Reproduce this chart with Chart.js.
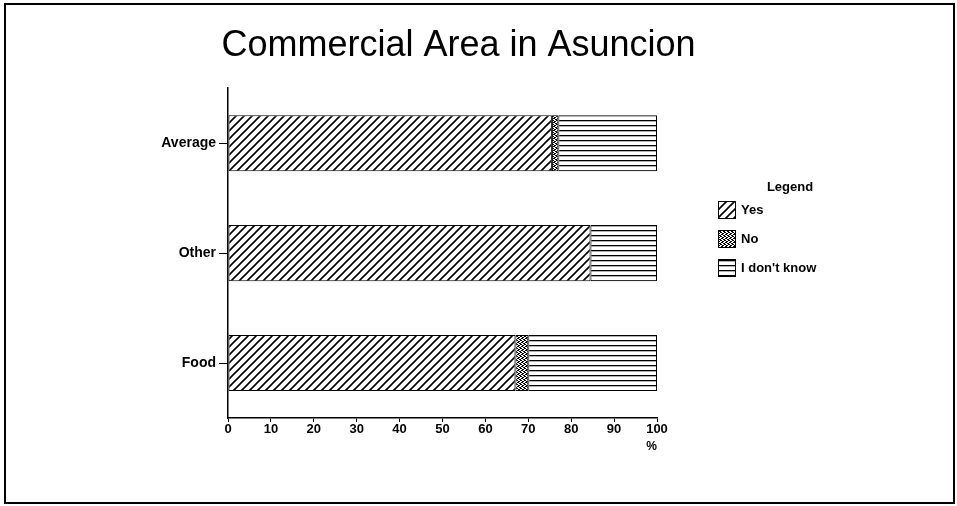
<!DOCTYPE html>
<html>
<head>
<meta charset="utf-8">
<title>Commercial Area in Asuncion</title>
<script src="https://cdn.jsdelivr.net/npm/chart.js@4/dist/chart.umd.min.js"></script>
<style>
  body { margin: 0; background: #fff; }
  #wrap { width: 957px; height: 506px; position: relative; }
</style>
</head>
<body>
<div id="wrap"><canvas id="chart"></canvas></div>
<script>
// categories, bottom to top in the picture is Food, Other, Average
const categories = ['Average', 'Other', 'Food'];

// percent of answers for each series
const yesValues = [75.5, 84.5, 67];
const noValues = [1.5, 0, 3];
const dontKnowValues = [23, 15.5, 30];

const seriesNames = ['Yes', 'No', "I don't know"];
const xTicks = [0, 10, 20, 30, 40, 50, 60, 70, 80, 90, 100];

const fontFamily = '"Liberation Sans", Arial, Helvetica, sans-serif';

// build a black-on-white fill pattern for the bars
function makePattern(kind) {
  const c = document.createElement('canvas');
  const ctx = c.getContext('2d');
  if (kind === 'diag') {
    c.width = 8; c.height = 8;
    ctx.fillStyle = '#fff';
    ctx.fillRect(0, 0, 8, 8);
    ctx.strokeStyle = '#000';
    ctx.lineWidth = 1.6;
    ctx.beginPath();
    ctx.moveTo(-1, 9); ctx.lineTo(9, -1);
    ctx.moveTo(-3, 3); ctx.lineTo(3, -3);
    ctx.moveTo(5, 11); ctx.lineTo(11, 5);
    ctx.stroke();
  } else if (kind === 'cross') {
    c.width = 4; c.height = 4;
    ctx.fillStyle = '#fff';
    ctx.fillRect(0, 0, 4, 4);
    ctx.fillStyle = '#000';
    ctx.fillRect(0, 0, 2, 1);
    ctx.fillRect(2, 1, 2, 1);
    ctx.fillRect(1, 2, 2, 1);
    ctx.fillRect(3, 3, 1, 1);
    ctx.fillRect(0, 3, 1, 1);
  } else {
    c.width = 8; c.height = 5;
    ctx.fillStyle = '#fff';
    ctx.fillRect(0, 0, 8, 5);
    ctx.fillStyle = '#000';
    ctx.fillRect(0, 0, 8, 1.3);
  }
  return ctx.createPattern(c, 'repeat');
}

const fills = [makePattern('diag'), makePattern('cross'), makePattern('horiz')];

// legend drawn beside the plot, taken from the datasets
const sideLegend = {
  id: 'sideLegend',
  afterDraw(chart) {
    const ctx = chart.ctx;
    ctx.save();
    ctx.fillStyle = '#000';
    ctx.textBaseline = 'middle';
    ctx.font = 'bold 13px ' + fontFamily;
    ctx.textAlign = 'center';
    ctx.fillText('Legend', 790, 187);
    ctx.textAlign = 'left';
    chart.data.datasets.forEach((ds, i) => {
      const y = 201 + i * 29;
      ctx.fillStyle = ds.backgroundColor;
      ctx.fillRect(718, y, 18, 18);
      ctx.strokeStyle = '#000';
      ctx.lineWidth = 1;
      ctx.strokeRect(718.5, y + 0.5, 17, 17);
      ctx.fillStyle = '#000';
      ctx.fillText(ds.label, 741, y + 9);
    });
    ctx.restore();
  }
};

// page frame round the whole chart
const frame = {
  id: 'frame',
  afterDraw(chart) {
    const ctx = chart.ctx;
    ctx.save();
    ctx.strokeStyle = '#000';
    ctx.lineWidth = 2;
    ctx.strokeRect(5, 4, 949, 499);
    ctx.restore();
  }
};

const whiteBg = {
  id: 'whiteBg',
  beforeDraw(chart) {
    const ctx = chart.ctx;
    ctx.save();
    ctx.fillStyle = '#fff';
    ctx.fillRect(0, 0, chart.width, chart.height);
    ctx.restore();
  }
};

const data = {
  labels: categories,
  datasets: [yesValues, noValues, dontKnowValues].map((vals, i) => ({
    label: seriesNames[i],
    data: vals,
    backgroundColor: fills[i],
    borderColor: '#000',
    borderWidth: 1,
    borderSkipped: false,
    barPercentage: 0.51,
    categoryPercentage: 1
  }))
};

const config = {
  type: 'bar',
  data: data,
  options: {
    indexAxis: 'y',
    responsive: true,
    maintainAspectRatio: false,
    animation: false,
    layout: {
      padding: { left: 0, right: 40, top: 0, bottom: 52 }
    },
    plugins: {
      legend: { display: false },
      tooltip: { enabled: false },
      title: {
        display: true,
        text: 'Commercial Area in Asuncion',
        color: '#000',
        font: { family: fontFamily, size: 36, weight: 'normal' },
        padding: { top: 24, bottom: 21 }
      }
    },
    scales: {
      x: {
        stacked: true,
        min: 0,
        max: 100,
        afterBuildTicks(scale) {
          scale.ticks = xTicks.map(v => ({ value: v }));
        },
        grid: { drawOnChartArea: false, tickLength: 4, color: '#000' },
        border: { color: '#000', width: 1.5 },
        ticks: {
          color: '#000',
          padding: 0,
          maxRotation: 0,
          font: { family: fontFamily, size: 13, weight: 'bold' }
        },
        title: {
          display: true,
          text: '%',
          align: 'end',
          color: '#000',
          padding: { top: 2, bottom: 0 },
          font: { family: fontFamily, size: 12, weight: 'bold' }
        }
      },
      y: {
        stacked: true,
        afterFit(scale) { scale.width = 228; },
        grid: { drawOnChartArea: false, offset: false, tickLength: 9, color: '#000' },
        border: { color: '#000', width: 1.5 },
        ticks: {
          color: '#000',
          padding: 3,
          font: { family: fontFamily, size: 14, weight: 'bold' }
        }
      },
      // empty axis that keeps room for the legend on the right
      side: {
        axis: 'y',
        type: 'linear',
        position: 'right',
        grid: { display: false },
        border: { display: false },
        ticks: { display: false },
        afterFit(scale) { scale.width = 260; }
      }
    }
  },
  plugins: [whiteBg, sideLegend, frame]
};

const chart = new Chart(document.getElementById('chart'), config);
</script>
</body>
</html>
